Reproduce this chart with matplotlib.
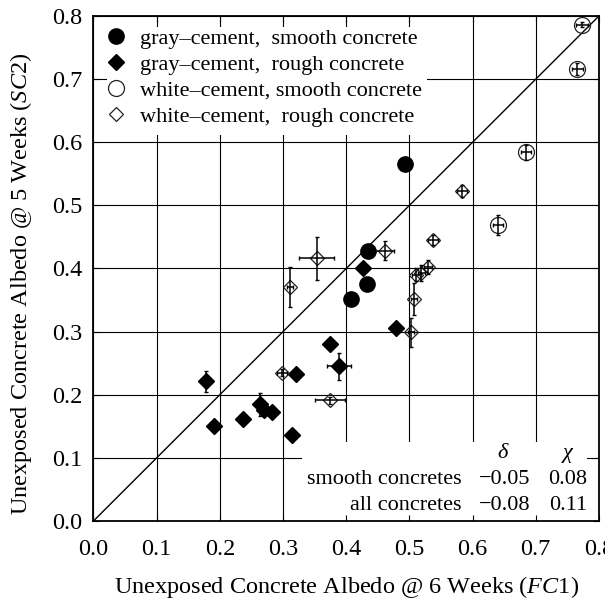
import matplotlib
matplotlib.use("Agg")
import matplotlib.pyplot as plt
from matplotlib.patches import Rectangle

plt.rcParams['font.family'] = ['Liberation Serif', 'DejaVu Serif']
plt.rcParams['mathtext.fontset'] = 'custom'
plt.rcParams['mathtext.rm'] = 'Liberation Serif'
plt.rcParams['mathtext.it'] = 'Liberation Serif:italic'
plt.rcParams['font.size'] = 16

# ---- data ----
gs_x = [0.493, 0.435, 0.433, 0.407]
gs_y = [0.566, 0.427, 0.375, 0.351]
gs_xe = [0.005, 0.005, 0.005, 0.005]
gs_ye = [0.005, 0.005, 0.005, 0.005]

gr_x = [0.178, 0.190, 0.237, 0.263, 0.270, 0.283, 0.314, 0.321, 0.374, 0.388, 0.427, 0.479]
gr_y = [0.221, 0.151, 0.161, 0.185, 0.176, 0.172, 0.136, 0.233, 0.280, 0.245, 0.400, 0.306]
gr_xe = [0.005, 0.005, 0.008, 0.005, 0.005, 0.005, 0.005, 0.005, 0.005, 0.019, 0.005, 0.005]
gr_ye = [0.016, 0.005, 0.005, 0.018, 0.005, 0.005, 0.005, 0.005, 0.005, 0.021, 0.005, 0.005]

ws_x = [0.773, 0.766, 0.684, 0.640]
ws_y = [0.786, 0.716, 0.584, 0.469]
ws_xe = [0.010, 0.008, 0.008, 0.008]
ws_ye = [0.004, 0.010, 0.012, 0.016]

wr_x = [0.298, 0.374, 0.311, 0.353, 0.461, 0.502, 0.507, 0.510, 0.519, 0.529, 0.538, 0.583]
wr_y = [0.235, 0.191, 0.371, 0.416, 0.428, 0.299, 0.352, 0.390, 0.393, 0.403, 0.445, 0.523]
wr_xe = [0.008, 0.024, 0.004, 0.028, 0.015, 0.005, 0.005, 0.006, 0.006, 0.006, 0.008, 0.008]
wr_ye = [0.006, 0.006, 0.032, 0.034, 0.015, 0.023, 0.025, 0.010, 0.013, 0.011, 0.008, 0.010]

labels = ["gray\u2013cement,  smooth concrete",
          "gray\u2013cement,  rough concrete",
          "white\u2013cement, smooth concrete",
          "white\u2013cement,  rough concrete"]

ticks = [0.0, 0.1, 0.2, 0.3, 0.4, 0.5, 0.6, 0.7, 0.8]
tick_labels = ["0.0", "0.1", "0.2", "0.3", "0.4", "0.5", "0.6", "0.7", "0.8"]

stat_rows = ["smooth concretes", "all concretes"]
stat_delta = ["\u22120.05", "\u22120.08"]
stat_chi = ["0.08", "0.11"]

# ---- figure ----
fig = plt.figure(figsize=(6.05, 6.02), dpi=100)
ax = fig.add_axes([0.1545, 0.1346, 0.8355, 0.8388])
ax.set_xlim(0, 0.8)
ax.set_ylim(0, 0.8)

for t in ticks:
    ax.axvline(t, color='black', lw=0.8, zorder=0.5)
    ax.axhline(t, color='black', lw=0.8, zorder=0.5)

ax.plot([0, 0.8], [0, 0.8], color='black', lw=1.0, zorder=1.5)

# white boxes behind legend and statistics table
ax.add_patch(Rectangle((0.022, 0.611), 0.506, 0.172, facecolor='white',
                       edgecolor='none', zorder=1))
ax.add_patch(Rectangle((0.33, 0.0), 0.451, 0.125, facecolor='white',
                       edgecolor='none', zorder=1))

ebkw = dict(fmt='none', ecolor='black', elinewidth=1.1, capsize=1.6,
            capthick=1.0, zorder=4)
ax.errorbar(gs_x, gs_y, xerr=gs_xe, yerr=gs_ye, **ebkw)
ax.errorbar(gr_x, gr_y, xerr=gr_xe, yerr=gr_ye, **ebkw)
ax.errorbar(ws_x, ws_y, xerr=ws_xe, yerr=ws_ye, **ebkw)
ax.errorbar(wr_x, wr_y, xerr=wr_xe, yerr=wr_ye, **ebkw)

h1, = ax.plot(gs_x, gs_y, 'o', ms=11, mfc='black', mec='black', ls='none', zorder=3)
h2, = ax.plot(gr_x, gr_y, 'D', ms=8, mfc='black', mec='black', ls='none', zorder=3)
h3, = ax.plot(ws_x, ws_y, 'o', ms=11.5, mfc='none', mec='#222222', mew=0.9, ls='none', zorder=3)
h4, = ax.plot(wr_x, wr_y, 'D', ms=7, mfc='none', mec='#222222', mew=0.9, ls='none', zorder=3)

leg = ax.legend([h1, h2, h3, h4], labels, loc='upper left',
                bbox_to_anchor=(0.022, 0.976), frameon=False, fontsize=16,
                handlelength=1.0, handletextpad=0.6, labelspacing=0.25,
                borderpad=0, borderaxespad=0)
leg.set_zorder(5)

# statistics table
ax.text(0.648, 0.107, "\u03b4", ha='center', va='center', fontstyle='italic', fontsize=16, zorder=5)
ax.text(0.751, 0.107, "\u03c7", ha='center', va='center', fontstyle='italic', fontsize=16, zorder=5)
row_y = [0.065, 0.025]
for yv, name, d, c in zip(row_y, stat_rows, stat_delta, stat_chi):
    ax.text(0.583, yv, name, ha='right', va='center', fontsize=16, zorder=5)
    ax.text(0.691, yv, d, ha='right', va='center', fontsize=16, zorder=5)
    ax.text(0.781, yv, c, ha='right', va='center', fontsize=16, zorder=5)

ax.set_xticks(ticks)
ax.set_xticklabels(tick_labels)
ax.set_yticks(ticks)
ax.set_yticklabels(tick_labels)
ax.tick_params(direction='in', length=4, width=0.8, top=True, right=True,
               labelsize=17.5)
ax.tick_params(axis='x', pad=13)
ax.tick_params(axis='y', pad=8)
ax.xaxis.set_zorder(2.5)
ax.yaxis.set_zorder(2.5)
for s in ax.spines.values():
    s.set_linewidth(1.3)
    s.set_zorder(6)

ax.set_xlabel(r"Unexposed Concrete Albedo @ 6 Weeks ($\mathit{FC1}$)", fontsize=17.5)
ax.set_ylabel(r"Unexposed Concrete Albedo @ 5 Weeks ($\mathit{SC2}$)", fontsize=17.5)
ax.xaxis.set_label_coords(0.5, -0.105)
ax.yaxis.set_label_coords(-0.118, 0.47)

fig.savefig("out.png", dpi=100)
